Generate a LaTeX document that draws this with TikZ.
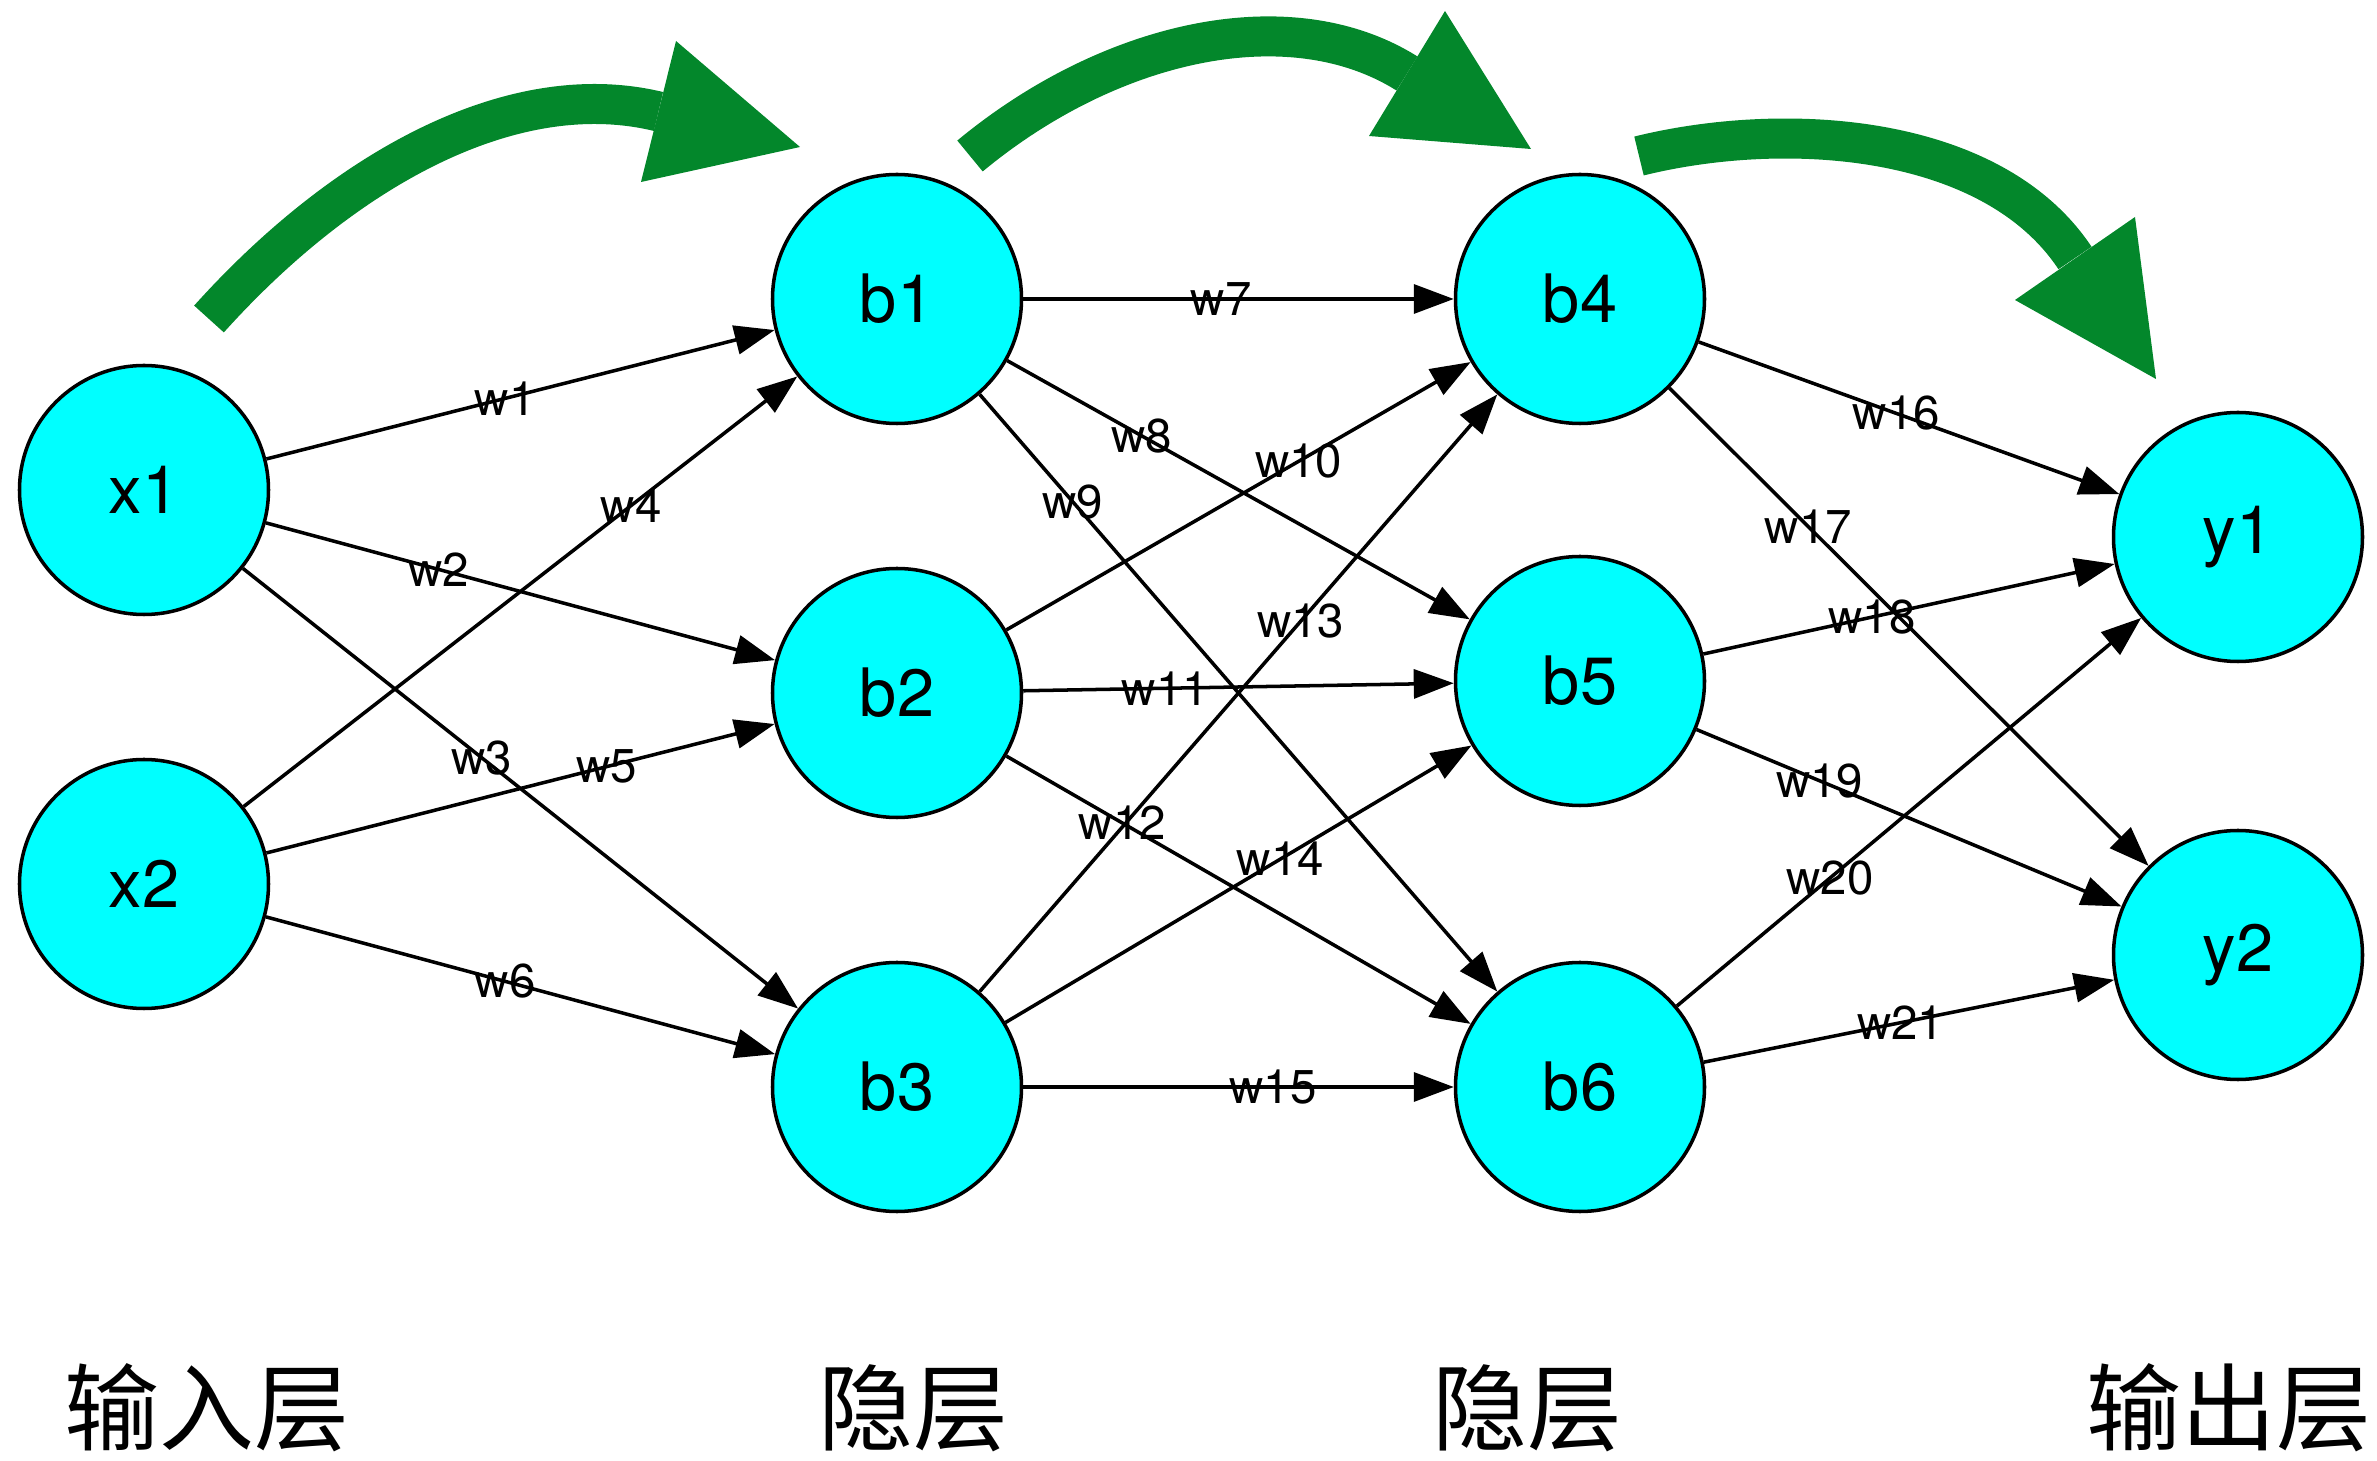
\documentclass[tikz,border=0pt]{standalone}
\usepackage{fontspec}
\setmainfont{TeX Gyre Heros}
\newfontfamily\cjk{Noto Sans CJK SC}
\usetikzlibrary{arrows.meta}

\definecolor{cellcyan}{RGB}{0,255,255}
\definecolor{flowgreen}{RGB}{3,135,43}

\tikzset{
  neuron/.style={circle,draw,line width=1pt,fill=cellcyan,
    minimum size=2.49cm,inner sep=0pt,font=\fontsize{19}{22}\selectfont},
  weight/.style={-{Triangle[length=4mm,width=2.9mm]},line width=1pt},
  wlabel/.style={font=\fontsize{13.5}{16}\selectfont,inner sep=0pt},
  flow/.style={flowgreen,line width=0.4cm},
  layer/.style={font=\cjk\fontsize{27}{30}\selectfont,inner sep=0pt}
}

\begin{document}
\begin{tikzpicture}
            \useasboundingbox (0,0) rectangle (23.77,-14.61);

            % neurons
            \node[neuron] (x1) at (1.44,-4.90) {x1};
            \node[neuron] (x2) at (1.44,-8.84) {x2};
            \node[neuron] (b1) at (8.97,-2.99) {b1};
            \node[neuron] (b2) at (8.97,-6.93) {b2};
            \node[neuron] (b3) at (8.97,-10.87) {b3};
            \node[neuron] (b4) at (15.80,-2.99) {b4};
            \node[neuron] (b5) at (15.80,-6.81) {b5};
            \node[neuron] (b6) at (15.80,-10.87) {b6};
            \node[neuron] (y1) at (22.38,-5.37) {y1};
            \node[neuron] (y2) at (22.38,-9.55) {y2};

            % weighted connections
            \foreach \from/\to/\w/\p in {
               x1/b1/w1/0.47, x1/b2/w2/0.34, x1/b3/w3/0.43,
               x2/b1/w4/0.70, x2/b2/w5/0.67, x2/b3/w6/0.47,
               b1/b4/w7/0.46, b1/b5/w8/0.29, b1/b6/w9/0.18,
               b2/b4/w10/0.63, b2/b5/w11/0.33, b2/b6/w12/0.25,
               b3/b4/w13/0.62, b3/b5/w14/0.59, b3/b6/w15/0.58,
               b4/y1/w16/0.47, b4/y2/w17/0.29,
               b5/y1/w18/0.41, b5/y2/w19/0.29,
               b6/y1/w20/0.33, b6/y2/w21/0.48}
               \draw[weight] (\from) -- node[wlabel,pos=\p] {\w} (\to);

            % big green arrows on top
            \draw [flow]
               (2.09,-3.19) .. controls (3.43,-1.70) and (5.12,-0.76) .. (6.585,-1.115);
            \fill [flowgreen]
               (6.76,-0.41) -- (8.00,-1.47) -- (6.41,-1.82) -- cycle;

            \draw [flow]
               (9.70,-1.56) .. controls (11.10,-0.40) and (12.90,0.00) .. (14.07,-0.735);
            \fill [flowgreen]
               (14.45,-0.11) -- (15.31,-1.49) -- (13.69,-1.36) -- cycle;

            \draw [flow]
               (16.39,-1.56) .. controls (17.85,-1.20) and (19.92,-1.33) .. (20.75,-2.58);
            \fill [flowgreen]
               (21.35,-2.17) -- (21.56,-3.79) -- (20.15,-3.00) -- cycle;

            % layer names
            \node[layer] (lin)  at (2.07,-14.08)  {输入层};
            \node[layer] (lh1)  at (9.13,-14.08)  {隐层};
            \node[layer] (lh2)  at (15.27,-14.08) {隐层};
            \node[layer] (lout) at (22.29,-14.08) {输出层};
\end{tikzpicture}
\end{document}
